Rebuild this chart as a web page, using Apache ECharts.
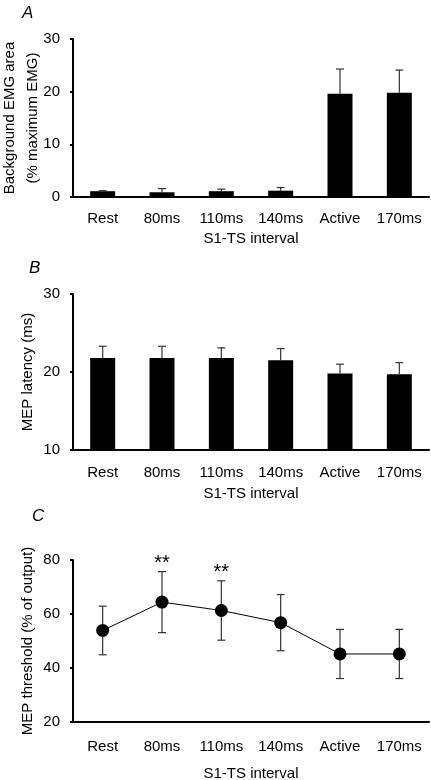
<!DOCTYPE html>
<html><head><meta charset="utf-8">
<script src="https://cdn.jsdelivr.net/npm/echarts@6/dist/echarts.min.js"></script>
<style>html,body{margin:0;padding:0;background:#fff}#c{width:431px;height:780px}</style>
</head><body><div id="c"></div>
<script>
const categories = ['Rest', '80ms', '110ms', '140ms', 'Active', '170ms'];
const emgMean = [1.1, 0.9, 1.1, 1.2, 19.6, 19.8];
const emgErr = [0.1, 0.7, 0.4, 0.6, 4.7, 4.3];
const latMean = [21.8, 21.8, 21.8, 21.5, 19.8, 19.7];
const latErr = [1.5, 1.5, 1.3, 1.5, 1.2, 1.5];
const thrMean = [53.9, 64.4, 61.3, 56.8, 45.2, 45.2];
const thrErr = [9.0, 11.3, 11.0, 10.4, 9.1, 9.1];
const stars = ['', '**', '**', '', '', ''];
const yTicksA = [0, 30, 10];
const yTicksB = [10, 30, 10];
const yTicksC = [20, 80, 20];
const xName = 'S1-TS interval';

const FONT = '"Liberation Sans", Arial, Helvetica, sans-serif';
const FS = 15;
const chart = echarts.init(document.getElementById('c'), null, {renderer: 'canvas'});

function errRender(both) {
  return function (params, api) {
    const i = api.value(0), m = api.value(1), e = api.value(2);
    const top = api.coord([i, m + e]);
    const bot = api.coord([i, both ? m - e : m]);
    const w = 4;
    const st = {stroke: '#333', lineWidth: 1.2};
    const ch = [
      {type: 'line', shape: {x1: top[0], y1: top[1], x2: bot[0], y2: bot[1]}, style: st},
      {type: 'line', shape: {x1: top[0] - w, y1: top[1], x2: top[0] + w, y2: top[1]}, style: st}
    ];
    if (both) ch.push({type: 'line', shape: {x1: bot[0] - w, y1: bot[1], x2: bot[0] + w, y2: bot[1]}, style: st});
    return {type: 'group', children: ch};
  };
}
function starRender(params, api) {
  const i = api.value(0), m = api.value(1), e = api.value(2);
  const p = api.coord([i, m + e]);
  return {type: 'text', x: p[0], y: p[1] + 2,
    style: {text: stars[i], textAlign: 'center', textVerticalAlign: 'bottom', font: '20px ' + FONT, fill: '#000'}};
}
function errData(mean, err) { return categories.map((c, i) => [i, mean[i], err[i]]); }

function xAxis(gi, margin, gap) {
  return {type: 'category', gridIndex: gi, data: categories, boundaryGap: true,
    axisLine: {lineStyle: {color: '#000', width: 2}}, axisTick: {show: false},
    axisLabel: {color: '#000', fontSize: FS, fontFamily: FONT, margin: margin, interval: 0},
    name: xName, nameLocation: 'middle', nameGap: gap, nameMoveOverlap: false,
    nameTextStyle: {color: '#000', fontSize: FS, fontFamily: FONT}};
}
function yAxis(gi, t, name, gap) {
  return {type: 'value', gridIndex: gi, min: t[0], max: t[1], interval: t[2],
    splitLine: {show: false},
    axisLine: {show: true, lineStyle: {color: '#000', width: 2}},
    axisTick: {show: true, length: 3, lineStyle: {color: '#000', width: 2}},
    axisLabel: {color: '#000', fontSize: FS, fontFamily: FONT, margin: 13},
    name: name, nameLocation: 'middle', nameGap: gap, nameRotate: 90, nameMoveOverlap: false,
    nameTextStyle: {color: '#000', fontSize: FS, fontFamily: FONT, lineHeight: 23}};
}

const option = {
  animation: false,
  backgroundColor: '#fff',
  grid: [
    {left: 73, right: 2, top: 39, height: 158, outerBoundsMode: 'none', containLabel: false},
    {left: 73, right: 2, top: 294, height: 156, outerBoundsMode: 'none', containLabel: false},
    {left: 73, right: 2, top: 560, height: 162, outerBoundsMode: 'none', containLabel: false}
  ],
  xAxis: [xAxis(0, 14, 34), xAxis(1, 15, 36), xAxis(2, 17, 44)],
  yAxis: [
    yAxis(0, yTicksA, 'Background EMG area\n(% maximum EMG)', 29),
    yAxis(1, yTicksB, 'MEP latency (ms)', 34),
    yAxis(2, yTicksC, 'MEP threshold (% of output)', 34)
  ],
  graphic: [
    {type: 'text', left: 22, top: 5, style: {text: 'A', font: 'italic 17px ' + FONT, fill: '#000'}},
    {type: 'text', left: 29, top: 260, style: {text: 'B', font: 'italic 17px ' + FONT, fill: '#000'}},
    {type: 'text', left: 32, top: 508, style: {text: 'C', font: 'italic 17px ' + FONT, fill: '#000'}}
  ],
  series: [
    {type: 'bar', xAxisIndex: 0, yAxisIndex: 0, data: emgMean, barWidth: 25, itemStyle: {color: '#000'}},
    {type: 'custom', xAxisIndex: 0, yAxisIndex: 0, data: errData(emgMean, emgErr), renderItem: errRender(false), z: 3},
    {type: 'bar', xAxisIndex: 1, yAxisIndex: 1, data: latMean, barWidth: 25, itemStyle: {color: '#000'}},
    {type: 'custom', xAxisIndex: 1, yAxisIndex: 1, data: errData(latMean, latErr), renderItem: errRender(false), z: 3},
    {type: 'custom', xAxisIndex: 2, yAxisIndex: 2, data: errData(thrMean, thrErr), renderItem: errRender(true), z: 1},
    {type: 'line', xAxisIndex: 2, yAxisIndex: 2, data: thrMean, symbol: 'circle', symbolSize: 13,
      lineStyle: {color: '#000', width: 1}, itemStyle: {color: '#000'}, z: 2},
    {type: 'custom', xAxisIndex: 2, yAxisIndex: 2, data: errData(thrMean, thrErr), renderItem: starRender, z: 3}
  ]
};
chart.setOption(option);
</script>
</body></html>
